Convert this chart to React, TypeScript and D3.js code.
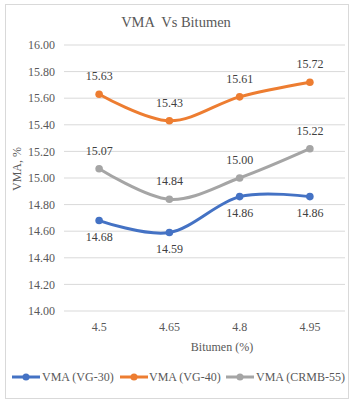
import React from "react";
import * as d3 from "d3";

const categories = ["4.5", "4.65", "4.8", "4.95"];
const vg30 = [14.68, 14.59, 14.86, 14.86];
const vg40 = [15.63, 15.43, 15.61, 15.72];
const crmb55 = [15.07, 14.84, 15.0, 15.22];
const yTicks = [14.0, 14.2, 14.4, 14.6, 14.8, 15.0, 15.2, 15.4, 15.6, 15.8, 16.0];

const seriesList = [
  { name: "VMA (VG-30)", values: vg30, color: "#4472C4", labelPos: "below" },
  { name: "VMA (VG-40)", values: vg40, color: "#ED7D31", labelPos: "above" },
  { name: "VMA (CRMB-55)", values: crmb55, color: "#A5A5A5", labelPos: "above" },
];

export default function App() {
  const W = 355, H = 402;
  const left = 64, right = 345, top = 45, bottom = 311;
  const x = d3.scaleBand().domain(categories).range([left, right]);
  const y = d3.scaleLinear().domain([14, 16]).range([bottom, top]);
  const cx = (c: string) => (x(c) as number) + x.bandwidth() / 2;
  const line = d3
    .line<number>()
    .x((_, i) => cx(categories[i]))
    .y((d) => y(d))
    .curve(d3.curveCardinal.tension(0));
  const font = "'Liberation Serif', 'Times New Roman', serif";
  const legendItems = [
    { lx: 12, tx: 42 },
    { lx: 120, tx: 149 },
    { lx: 226, tx: 256 },
  ];
  return (
    <svg width={W} height={H} style={{ position: "absolute", left: 0, top: 0 }} fontFamily={font}>
      <rect x={0} y={0} width={W} height={H} fill="#fff" />
      <rect x={5.5} y={4.5} width={343} height={394} fill="#fff" stroke="#D9D9D9" strokeWidth={1} />
      <text x={176} y={27} textAnchor="middle" fontSize={14.5} fill="#595959" style={{ whiteSpace: "pre" }}>
        {"VMA  Vs Bitumen"}
      </text>
      {yTicks.map((t) => (
        <g key={t}>
          <line x1={left} x2={right} y1={y(t)} y2={y(t)} stroke="#D9D9D9" strokeWidth={1} />
          <text x={55} y={y(t)} dy="0.35em" textAnchor="end" fontSize={12} fill="#595959">
            {t.toFixed(2)}
          </text>
        </g>
      ))}
      {categories.map((c) => (
        <text key={c} x={cx(c)} y={327} dy="0.35em" textAnchor="middle" fontSize={12} fill="#595959">
          {c}
        </text>
      ))}
      <text x={222} y={347} dy="0.35em" textAnchor="middle" fontSize={12} fill="#595959">
        Bitumen (%)
      </text>
      <text
        transform={`translate(17,${169}) rotate(-90)`}
        textAnchor="middle"
        dy="0.35em"
        fontSize={12}
        fill="#595959"
      >
        VMA, %
      </text>
      {seriesList.map((s) => (
        <g key={s.name}>
          <path d={line(s.values) as string} fill="none" stroke={s.color} strokeWidth={3} strokeLinecap="round" />
          {s.values.map((v, i) => (
            <circle key={i} cx={cx(categories[i])} cy={y(v)} r={3.8} fill={s.color} />
          ))}
          {s.values.map((v, i) => (
            <text
              key={"l" + i}
              x={cx(categories[i])}
              y={y(v) + (s.labelPos === "above" ? -18 : 16)}
              dy="0.35em"
              textAnchor="middle"
              fontSize={12}
              fill="#404040"
            >
              {v.toFixed(2)}
            </text>
          ))}
        </g>
      ))}
      {seriesList.map((s, i) => (
        <g key={"lg" + s.name}>
          <line x1={legendItems[i].lx} x2={legendItems[i].lx + 28} y1={377} y2={377} stroke={s.color} strokeWidth={3} />
          <circle cx={legendItems[i].lx + 14} cy={377} r={3.5} fill={s.color} />
          <text x={legendItems[i].tx} y={377} dy="0.35em" fontSize={12} fill="#595959">
            {s.name}
          </text>
        </g>
      ))}
    </svg>
  );
}
